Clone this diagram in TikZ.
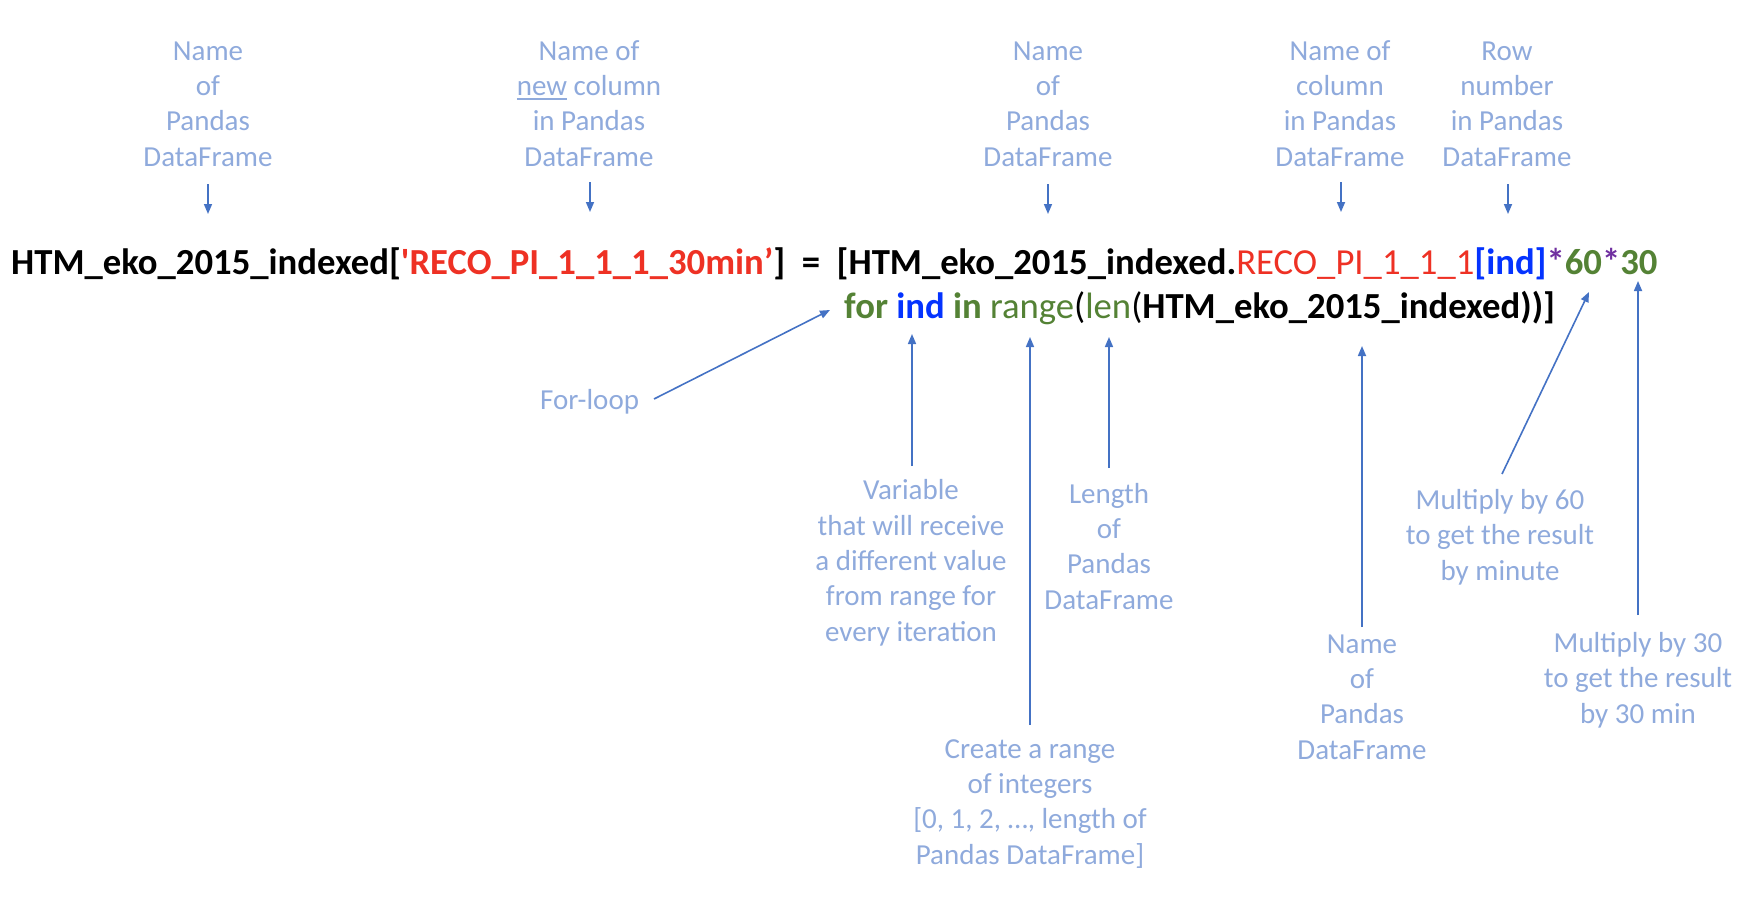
\documentclass[tikz,border=0pt]{standalone}
\usepackage{fontspec}
\setmainfont{Carlito}
\usetikzlibrary{arrows.meta}
\definecolor{labc}{HTML}{8FAADC}
\definecolor{arrc}{HTML}{4472C4}
\definecolor{cred}{HTML}{EE3124}
\definecolor{cgreen}{HTML}{548235}
\definecolor{cblue}{HTML}{0433FF}
\definecolor{cpurple}{HTML}{7030A0}
\newcommand\labfont{\fontsize{29}{35.3}\selectfont}
\newcommand\codefont{\fontsize{36.7}{44}\selectfont}
\newcommand\thickul[1]{\setbox0\hbox{#1}\rlap{\raisebox{-4.5pt}{\rule{\wd0}{2.2pt}}}\box0\relax}
\tikzset{
  lab/.style={text=labc, font=\labfont, align=center, inner sep=0pt, anchor=base},
  code/.style={font=\codefont, inner sep=0pt, anchor=base west},
  arr/.style={draw=arrc, line width=1.6pt, -{Triangle[length=10pt,width=8pt]}}
}
\begin{document}
\begin{tikzpicture}[x=1pt,y=-1pt]
\path[use as bounding box] (0,0) rectangle (1748,902);
% code
\node[code] (line1) at (11,274) {\textbf{HTM\_eko\_2015\_indexed[}\textcolor{cred}{\textbf{\textquotesingle RECO\_PI\_1\_1\_1\_30min’}}\textbf{]\ \ =\ \ [HTM\_eko\_2015\_indexed.}\textcolor{cred}{RECO\_PI\_1\_1\_1}\textcolor{cblue}{\textbf{[ind]}}\textcolor{cpurple}{\textbf{*}}\textcolor{cgreen}{\textbf{60}}\textcolor{cpurple}{\textbf{*}}\textcolor{cgreen}{\textbf{30}}};
\node[code] (line2) at (844,318) {\textcolor{cgreen}{\textbf{for}} \textcolor{cblue}{\textbf{ind}} \textcolor{cgreen}{\textbf{in}} \textcolor{cgreen}{range}(\textcolor{cgreen}{len}(\textbf{HTM\_eko\_2015\_indexed))]}};
% top labels (anchor = baseline of last line)
\node[lab] (t1) at (208,166) {Name\\of\\Pandas\\DataFrame};
\node[lab] (t2) at (589,166) {Name of\\\thickul{new} column\\in Pandas\\DataFrame};
\node[lab] (t3) at (1048,166) {Name\\of\\Pandas\\DataFrame};
\node[lab] (t4) at (1340,166) {Name of\\column\\in Pandas\\DataFrame};
\node[lab] (t5) at (1507,166) {Row\\number\\in Pandas\\DataFrame};
\coordinate (t1a) at (208,184); \coordinate (t1b) at (208,214);
\coordinate (t2a) at (590,182); \coordinate (t2b) at (590,212);
\coordinate (t3a) at (1048,184); \coordinate (t3b) at (1048,214);
\coordinate (t4a) at (1341,182); \coordinate (t4b) at (1341,212);
\coordinate (t5a) at (1508,184); \coordinate (t5b) at (1508,214);
\draw[arr] (t1a) -- (t1b);
\draw[arr] (t2a) -- (t2b);
\draw[arr] (t3a) -- (t3b);
\draw[arr] (t4a) -- (t4b);
\draw[arr] (t5a) -- (t5b);
% bottom labels
\node[lab, anchor=base west] (b0) at (540,409) {For-loop};
\node[lab] (b1) at (911,641) {Variable\\that will receive\\a different value\\from range for\\every iteration};
\node[lab] (b2) at (1030,864) {Create a range\\of integers\\{[}0, 1, 2, …, length of\\Pandas DataFrame{]}};
\node[lab] (b3) at (1109,609) {Length\\of\\Pandas\\DataFrame};
\node[lab] (b4) at (1362,759) {Name\\of\\Pandas\\DataFrame};
\node[lab] (b5) at (1500,580) {Multiply by 60\\to get the result\\by minute};
\node[lab] (b6) at (1638,723) {Multiply by 30\\to get the result\\by 30 min};
\coordinate (b0a) at (654,399); \coordinate (b0b) at (830,310);
\coordinate (b1a) at (912,466); \coordinate (b1b) at (912,334);
\coordinate (b2a) at (1030,725); \coordinate (b2b) at (1030,337);
\coordinate (b3a) at (1109,468); \coordinate (b3b) at (1109,337);
\coordinate (b4a) at (1362,627); \coordinate (b4b) at (1362,346);
\coordinate (b5a) at (1502,474); \coordinate (b5b) at (1589,292);
\coordinate (b6a) at (1638,615); \coordinate (b6b) at (1638,281);
\draw[arr] (b0a) -- (b0b);
\draw[arr] (b1a) -- (b1b);
\draw[arr] (b2a) -- (b2b);
\draw[arr] (b3a) -- (b3b);
\draw[arr] (b4a) -- (b4b);
\draw[arr] (b5a) -- (b5b);
\draw[arr] (b6a) -- (b6b);
\end{tikzpicture}
\end{document}
